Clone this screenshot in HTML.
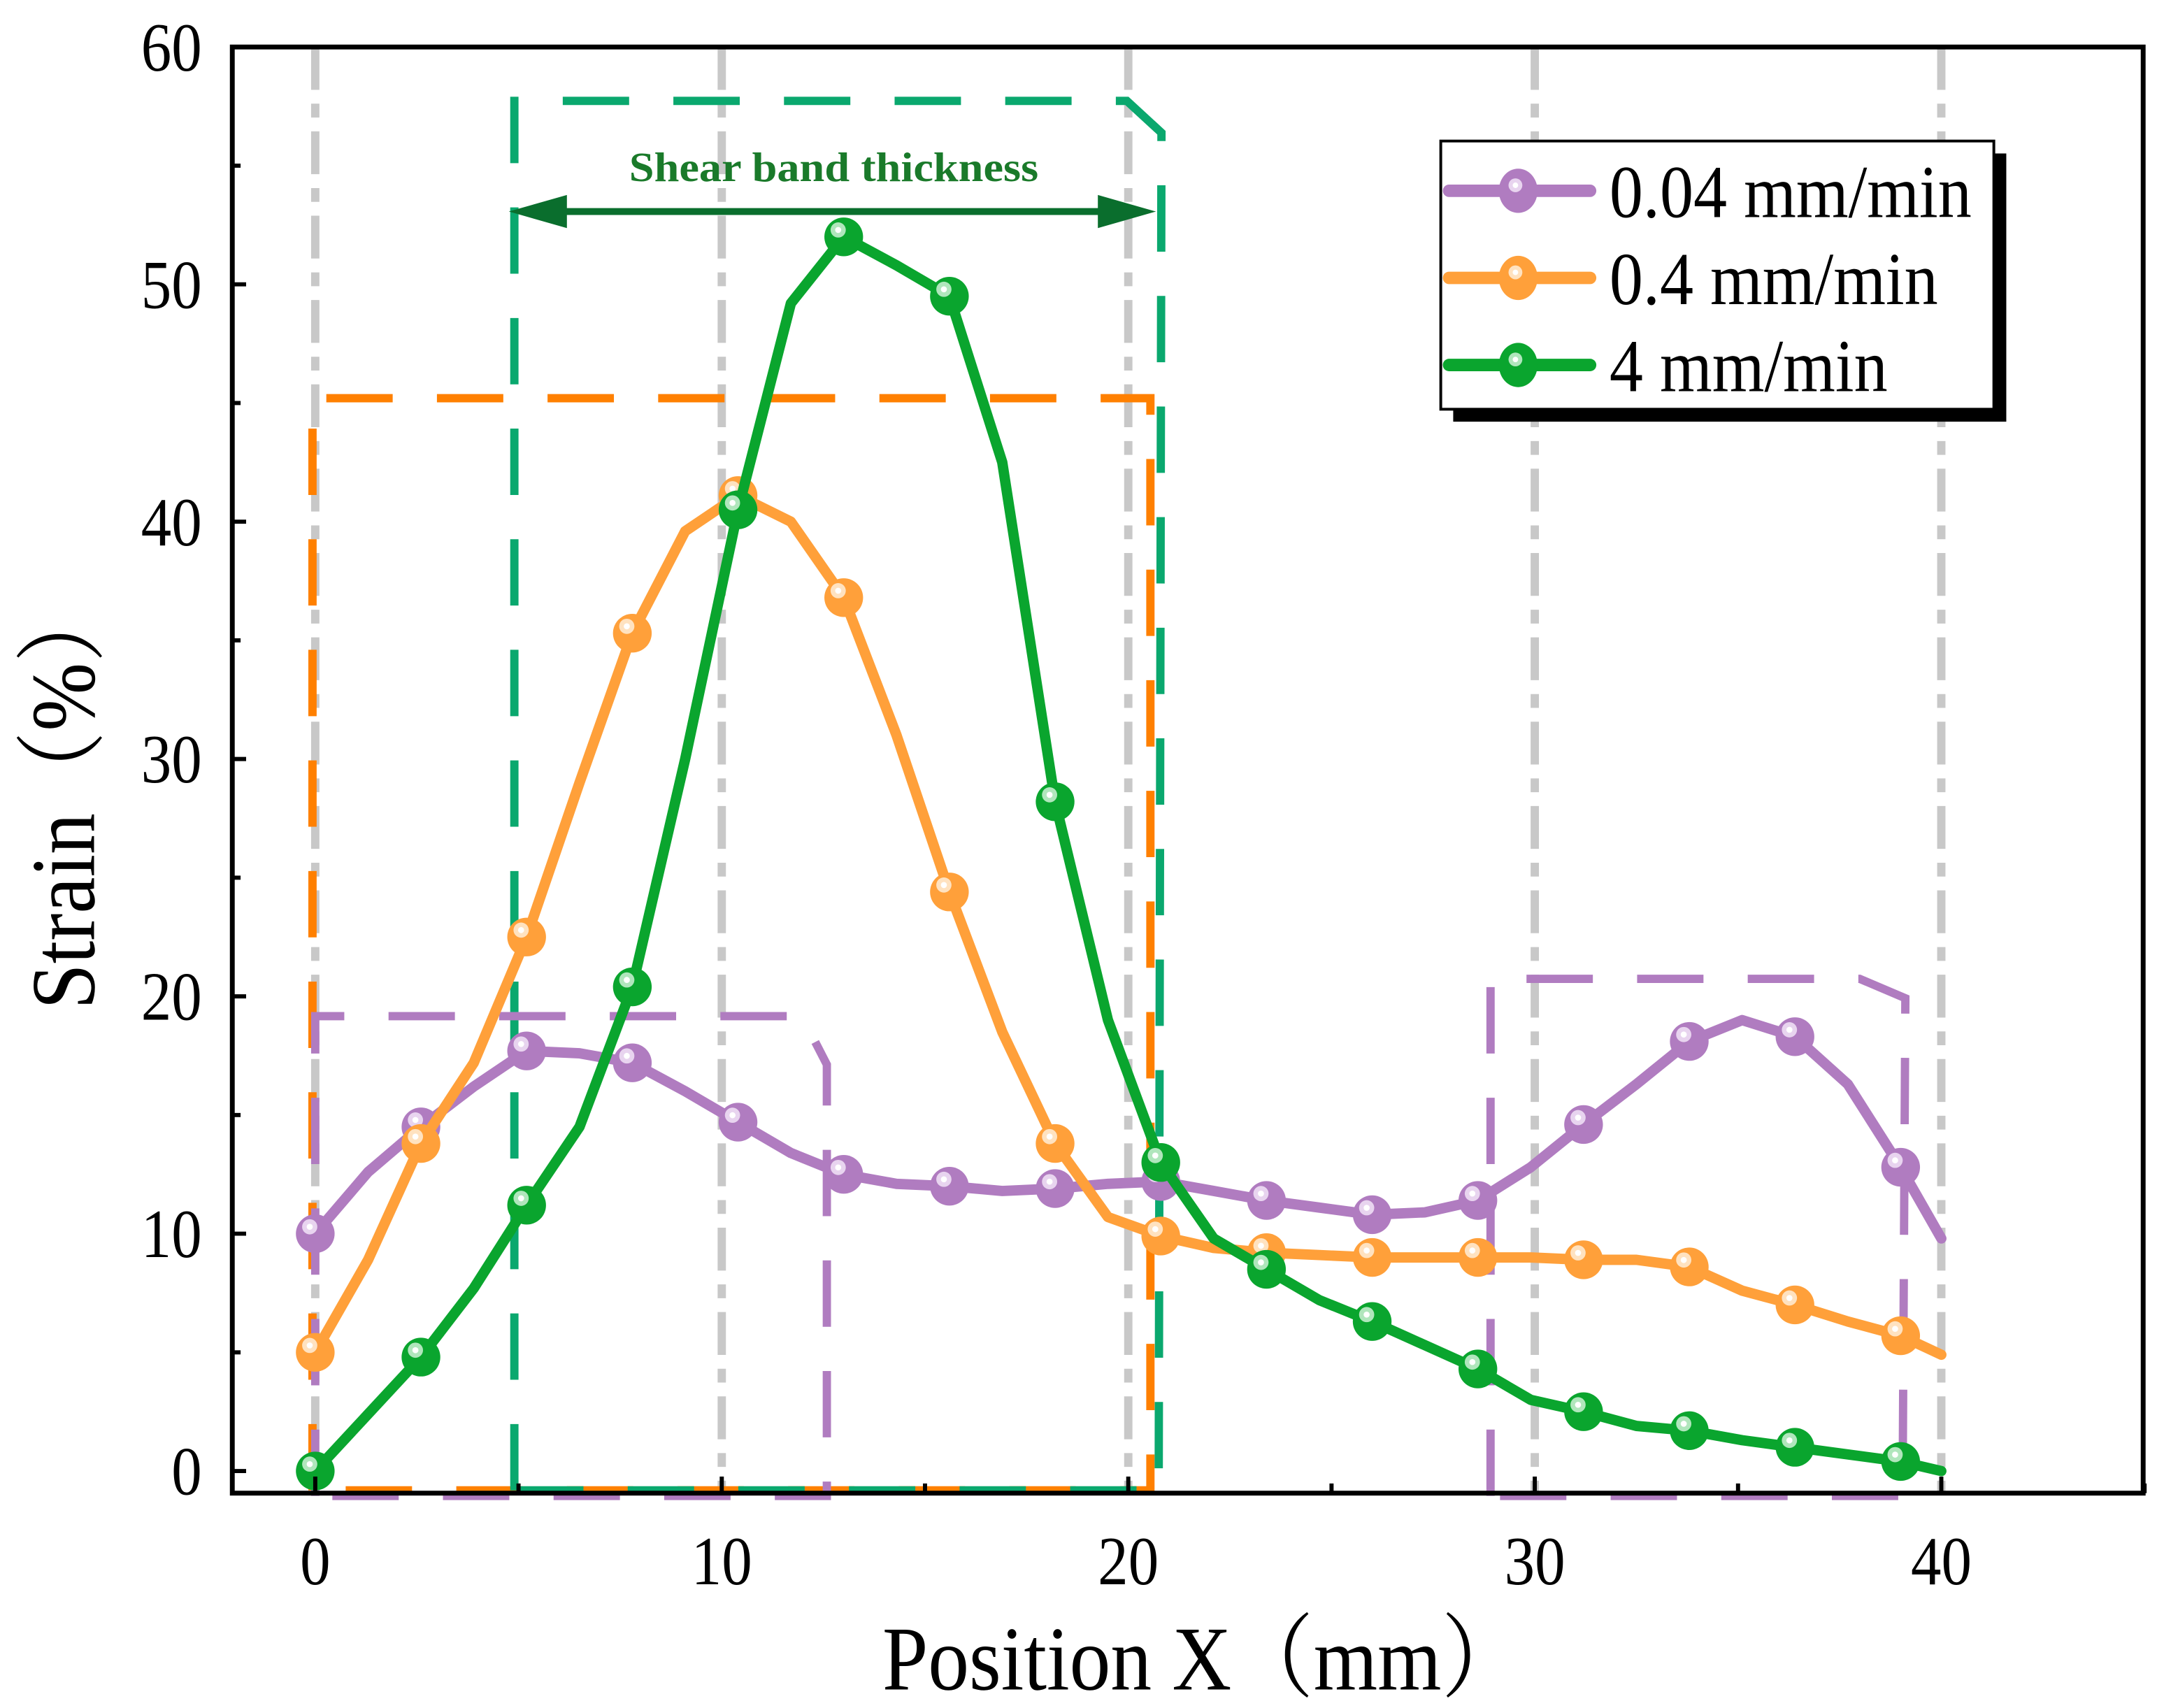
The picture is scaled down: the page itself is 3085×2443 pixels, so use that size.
<!DOCTYPE html>
<html><head><meta charset="utf-8"><style>
html,body{margin:0;padding:0;background:#fff;}
svg{display:block;}
text{font-family:"Liberation Serif","Noto Serif CJK SC",serif;}
</style></head><body>
<svg id="chart" width="3085" height="2443" viewBox="0 0 1560 1235.4" preserveAspectRatio="none" xmlns="http://www.w3.org/2000/svg">
<rect x="0" y="0" width="1560" height="1235.4" fill="#fff"/>
<g id="grid"></g>
<g id="boxes"></g>
<g id="series"></g>
<g id="axes"></g>
<g id="legend"></g>
</svg>
<script>
const xs = [0,1.3,2.6,3.9,5.2,6.5,7.8,9.1,10.4,11.7,13,14.3,15.6,16.9,18.2,19.5,20.8,22.1,23.4,24.7,26,27.3,28.6,29.9,31.2,32.5,33.8,35.1,36.4,37.7,39,40];
const purple = [10,12.6,14.5,16.2,17.7,17.6,17.2,16,14.7,13.4,12.5,12.1,12,11.8,11.9,12.1,12.2,11.8,11.4,11.1,10.8,10.9,11.4,12.8,14.6,16.3,18.1,19.0,18.3,16.3,12.8,9.8];
const orange = [5,8.9,13.8,17.2,22.5,29,35.3,39.6,41.1,40,36.8,31,24.4,18.5,13.8,10.7,9.9,9.4,9.2,9.1,9.0,9.0,9.0,9.0,8.9,8.9,8.6,7.6,7.0,6.3,5.7,4.9];
const green = [0,2.4,4.8,7.7,11.2,14.5,20.4,30,40.5,49.2,52,50.8,49.5,42.5,28.2,19,13,9.8,8.5,7.2,6.3,5.3,4.3,3.0,2.5,1.9,1.7,1.3,1.0,0.7,0.4,0];
const seriesNames = ["0.04 mm/min","0.4 mm/min","4 mm/min"];
const xTicks = [0,10,20,30,40];
const yTicks = [0,10,20,30,40,50,60];

const NS="http://www.w3.org/2000/svg";
const L=168,T=34,R=1550,B=1080;
const X=v=>228+(v)*(1404-228)/40;
const Y=v=>1064-v*(1064-34)/60;
function mk(tag,attrs,parent){const e=document.createElementNS(NS,tag);for(const k in attrs)e.setAttribute(k,attrs[k]);parent.appendChild(e);return e;}
const grid=document.getElementById('grid'),boxes=document.getElementById('boxes'),ser=document.getElementById('series'),axes=document.getElementById('axes'),leg=document.getElementById('legend');

xTicks.forEach(t=>{
  const g=mk('line',{x1:X(t),x2:X(t),y1:T,y2:B,stroke:'#c8c8c8','stroke-width':6,'stroke-dasharray':'31 10 10 10'},grid);
  
  
});

function dpath(d,col,name){const p=mk('path',{d:d,fill:'none',stroke:col,'stroke-width':6,'stroke-dasharray':'48 32'},boxes);
  
  }
dpath('M226 1078 L226 288 L832 288 L832 1078 Z','#ff8000','orange-dashed-box');
dpath('M372 1078 L372 73 L815 73 L840 96 L838 1078 Z','#0aa86e','green-dashed-box');
dpath('M228 1082 L228 735 L550 735 L580 735 L598 770 L598 1082 Z','#b07cc0','purple-dashed-box-left');
dpath('M1078 1082 L1078 708 L1345 708 L1378 722 L1376 1082 Z','#b07cc0','purple-dashed-box-right');

const ar=mk('line',{x1:385,x2:820,y1:153,y2:153,stroke:'#0a6e2d','stroke-width':5},boxes);


const ah1=mk('polygon',{points:'368,153 410,141 410,165',fill:'#0a6e2d'},boxes);


const ah2=mk('polygon',{points:'836,153 794,141 794,165',fill:'#0a6e2d'},boxes);


const st=mk('text',{x:455,y:131,'font-size':30,'font-weight':'bold',fill:'#1a7a2a',textLength:296,lengthAdjust:'spacingAndGlyphs'},boxes);
st.textContent='Shear band thickness';



const cols=['#b07cc0','#ffa03a','#0aa52e'];
const hls=['#e8d4ef','#ffe2c0','#b0e6bc'];
[purple,orange,green].forEach((arr,si)=>{
  const pts=xs.map((x,i)=>X(x)+','+Y(arr[i])).join(' ');
  const pl=mk('polyline',{points:pts,fill:'none',stroke:cols[si],'stroke-width':7.5,'stroke-linejoin':'round','stroke-linecap':'round'},ser);
  
  
  xs.forEach((x,i)=>{
    if(i%2!==0||i===xs.length-1)return;
    const c=mk('circle',{cx:X(x),cy:Y(arr[i]),r:14,fill:cols[si]},ser);
    
    
    mk('circle',{cx:X(x)-4,cy:Y(arr[i])-5,r:5.5,fill:hls[si]},ser);
    mk('circle',{cx:X(x)-4,cy:Y(arr[i])-5,r:2.2,fill:'#fff'},ser);
  });
});

const fr=mk('rect',{x:L,y:T,width:R-L,height:B-T,fill:'none',stroke:'#000','stroke-width':3.5},axes);


yTicks.forEach(t=>{
  mk('line',{x1:L,x2:L+10,y1:Y(t),y2:Y(t),stroke:'#000','stroke-width':3},axes);
  if(t<60)mk('line',{x1:L,x2:L+6,y1:Y(t+5),y2:Y(t+5),stroke:'#000','stroke-width':3},axes);
  const tx=mk('text',{x:146,y:Y(t)+17,'text-anchor':'end','font-size':50,transform:'translate('+(146*0.12)+',0) scale(0.88,1)'},axes);
  tx.setAttribute('x',146);
  tx.textContent=t;
  
  
});
xTicks.forEach(t=>{
  mk('line',{x1:X(t),x2:X(t),y1:B,y2:B-12,stroke:'#000','stroke-width':3},axes);
  mk('line',{x1:X(t+5),x2:X(t+5),y1:B,y2:B-7,stroke:'#000','stroke-width':3},axes);
  const tx=mk('text',{x:X(t)/0.88,y:1146,'text-anchor':'middle','font-size':50,transform:'scale(0.88,1)'},axes);
  tx.textContent=t;
  
  
});
const xt=mk('text',{x:870/0.9,y:1222,'text-anchor':'middle','font-size':66,transform:'scale(0.9,1)'},axes);
xt.textContent='Position X（mm）';


const yt=mk('text',{x:0,y:0,'text-anchor':'middle','font-size':66,transform:'translate(68,575) rotate(-90) scale(0.9,1)'},axes);
yt.textContent='Strain（%）';



const sh=mk('rect',{x:1051,y:111,width:400,height:194,fill:'#000'},leg);


const lb=mk('rect',{x:1042,y:102,width:400,height:194,fill:'#fff',stroke:'#000','stroke-width':2},leg);


seriesNames.forEach((n,i)=>{
  const y=138+i*63;
  const g=mk('g',{},leg);
  
  
  mk('line',{x1:1048,x2:1150,y1:y,y2:y,stroke:cols[i],'stroke-width':9,'stroke-linecap':'round'},g);
  mk('ellipse',{cx:1098,cy:y,rx:14,ry:16,fill:cols[i]},g);
  mk('circle',{cx:1096,cy:y-4,r:5,fill:hls[i]},g);
  mk('circle',{cx:1096,cy:y-4,r:2,fill:'#fff'},g);
  const t=mk('text',{x:1164/0.9,y:y+19,'font-size':54,transform:'scale(0.9,1)'},g);
  t.textContent=n;
});
</script>
</body></html>
